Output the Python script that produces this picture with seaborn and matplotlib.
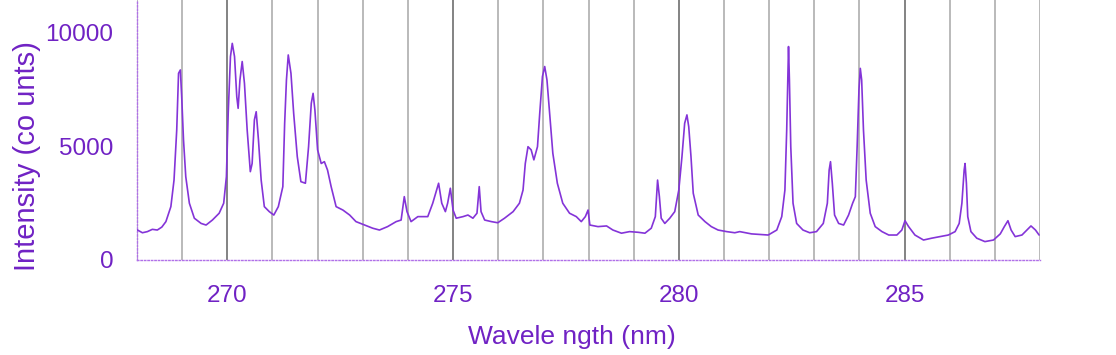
import matplotlib
matplotlib.use("Agg")
import matplotlib.pyplot as plt
import seaborn as sns
import pandas as pd
from matplotlib.ticker import MultipleLocator

# ---- data ----
wavelength = [
    268.01, 268.12, 268.23, 268.34, 268.45, 268.55, 268.64, 268.75, 268.82, 268.88,
    268.92, 268.96, 268.99, 269.03, 269.08, 269.16, 269.27, 269.42, 269.53, 269.67,
    269.82, 269.92, 269.98, 270.02, 270.07, 270.11, 270.16, 270.21, 270.24, 270.28,
    270.33, 270.38, 270.44, 270.51, 270.55, 270.60, 270.64, 270.69, 270.75, 270.82,
    270.93, 271.03, 271.13, 271.23, 271.27, 271.31, 271.35, 271.41, 271.47, 271.55,
    271.63, 271.73, 271.80, 271.86, 271.90, 271.94, 272.00, 272.08, 272.15, 272.22,
    272.30, 272.41, 272.56, 272.71, 272.85, 273.04, 273.22, 273.37, 273.55, 273.74,
    273.85, 273.92, 273.98, 274.07, 274.22, 274.44, 274.55, 274.68, 274.75, 274.83,
    274.88, 274.94, 275.00, 275.07, 275.22, 275.33, 275.44, 275.53, 275.58, 275.62,
    275.70, 275.85, 275.99, 276.14, 276.33, 276.47, 276.55, 276.60, 276.66, 276.73,
    276.79, 276.87, 276.92, 276.98, 277.03, 277.08, 277.14, 277.21, 277.31, 277.43,
    277.58, 277.73, 277.84, 277.93, 277.99, 278.03, 278.21, 278.40, 278.54, 278.73,
    278.91, 279.10, 279.25, 279.39, 279.48, 279.53, 279.57, 279.61, 279.69, 279.80,
    279.91, 280.00, 280.07, 280.13, 280.18, 280.22, 280.27, 280.32, 280.43, 280.58,
    280.72, 280.87, 281.06, 281.24, 281.35, 281.61, 281.98, 282.17, 282.28, 282.35,
    282.39, 282.42, 282.43, 282.45, 282.48, 282.53, 282.61, 282.75, 282.90, 283.05,
    283.20, 283.29, 283.33, 283.36, 283.40, 283.45, 283.54, 283.65, 283.76, 283.85,
    283.91, 283.95, 283.99, 284.02, 284.05, 284.09, 284.15, 284.24, 284.35, 284.50,
    284.65, 284.83, 284.94, 285.01, 285.09, 285.23, 285.42, 285.60, 285.79, 285.97,
    286.12, 286.21, 286.27, 286.32, 286.34, 286.37, 286.40, 286.47, 286.60, 286.78,
    286.97, 287.12, 287.21, 287.29, 287.36, 287.45, 287.60, 287.71, 287.80, 287.90,
    287.98,
]
intensity = [
    1320, 1200, 1250, 1350, 1320, 1450, 1690, 2350, 3520, 5730,
    8220, 8370, 7190, 5290, 3670, 2500, 1840, 1610, 1540, 1760,
    2060, 2500, 3670, 6460, 8960, 9540, 8960, 7190, 6680, 7930,
    8740, 7780, 5730, 3890, 4250, 6170, 6530, 5290, 3520, 2350,
    2130, 1980, 2350, 3230, 6000, 7930, 9030, 8220, 6460, 4550,
    3450, 3380, 4990, 6900, 7340, 6610, 4850, 4250, 4330, 3960,
    3230, 2350, 2200, 1980, 1690, 1540, 1400, 1320, 1470, 1690,
    1760, 2790, 2130, 1690, 1910, 1910, 2500, 3380, 2500, 2130,
    2500, 3160, 2200, 1840, 1910, 1980, 1840, 2060, 3230, 2130,
    1760, 1690, 1640, 1840, 2130, 2500, 3080, 4250, 4990, 4850,
    4410, 4990, 6460, 8080, 8520, 7930, 6460, 4700, 3380, 2500,
    2060, 1910, 1690, 1910, 2200, 1540, 1470, 1500, 1320, 1180,
    1250, 1220, 1180, 1400, 1910, 3520, 2790, 1840, 1610, 1840,
    2130, 3080, 4550, 6020, 6390, 5870, 4550, 2940, 1980, 1690,
    1470, 1320, 1250, 1200, 1250, 1150, 1100, 1320, 1910, 3080,
    5730, 8660, 9400, 7930, 4990, 2500, 1610, 1320, 1200, 1250,
    1610, 2500, 3960, 4330, 3380, 1980, 1610, 1540, 1980, 2500,
    2790, 4990, 7490, 8440, 7930, 5730, 3520, 2060, 1470, 1250,
    1100, 1100, 1320, 1730, 1470, 1100, 880, 960, 1030, 1100,
    1250, 1610, 2500, 3960, 4250, 3380, 1910, 1250, 960, 810,
    880, 1150, 1470, 1730, 1320, 1030, 1100, 1320, 1500, 1320,
    1100,
]
x_major_ticks = [270, 275, 280, 285]
y_major_ticks = [0, 5000, 10000]

TXT = "#7022c4"
LINE = "#8434d8"

sns.set_style("white")
plt.rcParams['font.family'] = ['Liberation Sans', 'DejaVu Sans']

fig = plt.figure(figsize=(11.16, 3.55), dpi=100)
ax = fig.add_axes([137 / 1116, 95 / 355, 903 / 1116, 260 / 355])

df = pd.DataFrame({"wavelength": wavelength, "intensity": intensity})
sns.lineplot(data=df, x="wavelength", y="intensity", ax=ax, color=LINE,
             linewidth=1.2, zorder=3)

ax.set_xlim(268, 288)
ax.set_ylim(0, 11450)
ax.set_xticks(x_major_ticks)
ax.xaxis.set_minor_locator(MultipleLocator(1))
ax.set_yticks(y_major_ticks)
ax.yaxis.set_minor_locator(MultipleLocator(2500))

ax.set_axisbelow(True)
ax.grid(True, axis="x", which="major", color="#7a7a7a", linewidth=1.3)
ax.grid(True, axis="x", which="minor", color="#b4b4b4", linewidth=1.3)
ax.grid(False, axis="y", which="both")

for s in ["top", "right"]:
    ax.spines[s].set_visible(False)
for s in ["left", "bottom"]:
    ax.spines[s].set_color("#b070e8")
    ax.spines[s].set_linestyle((0, (1, 1.5)))
    ax.spines[s].set_linewidth(1.0)

ax.tick_params(axis="x", which="major", direction="out", length=12, width=1.2,
               color="#7a7a7a", labelsize=17.5, labelcolor=TXT, pad=6)
ax.tick_params(axis="x", which="minor", direction="inout", length=8, width=1.2,
               color="#b4b4b4")
ax.tick_params(axis="y", which="major", direction="out", length=12, width=1.0,
               color="#b070e8", labelsize=17.5, labelcolor=TXT, pad=5)
ax.tick_params(axis="y", which="minor", direction="out", length=5, width=1.0,
               color="#b070e8")

ax.set_xlabel("Wavele ngth (nm)", fontsize=19, color=TXT)
ax.set_ylabel("Intensity (co unts)", fontsize=21, color=TXT)
ax.xaxis.set_label_coords(0.482, -0.25)
ax.yaxis.set_label_coords(-0.106, 0.40)

fig.savefig("out.png", dpi=100)
